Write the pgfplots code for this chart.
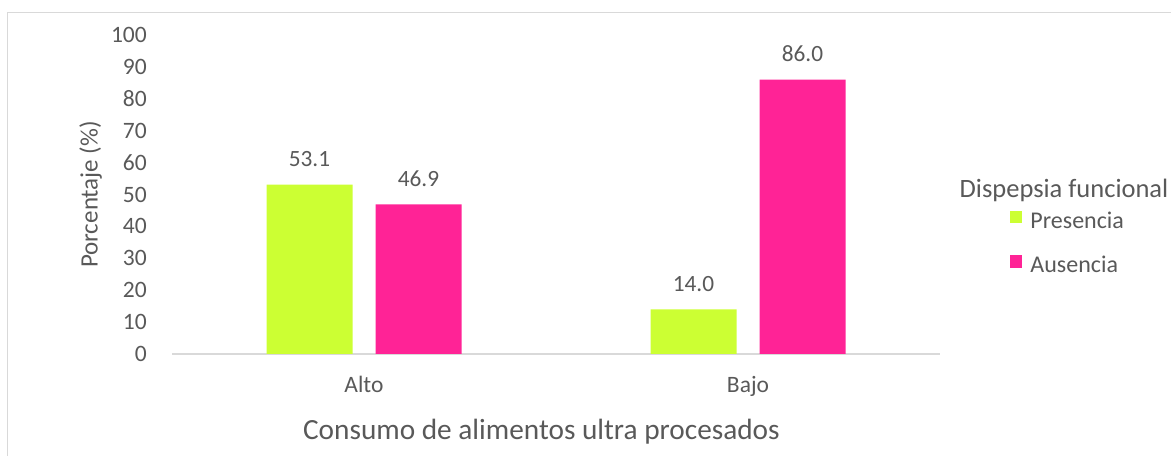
\documentclass[border=0pt]{standalone}
\usepackage{pgfplots}
\pgfplotsset{compat=1.18}
\usepackage{fontspec}
\setmainfont{Carlito}
\definecolor{txt}{HTML}{595959}
\definecolor{limeb}{HTML}{CCFF33}
\definecolor{pinkb}{HTML}{FF2396}
\definecolor{framec}{HTML}{D9D9D9}
\begin{document}
\begin{tikzpicture}[x=1bp,y=1bp]
\begin{axis}[
  at={(172bp,102bp)}, anchor=south west,
  scale only axis, width=768bp, height=319bp,
  xmin=-0.5, xmax=1.5, ymin=0, ymax=100,
  clip=false,
  ybar=23bp, bar width=86bp,
  xtick={0,1}, xticklabels={Alto,Bajo},
  ytick={0,10,...,100},
  major tick length=0pt,
  /pgf/number format/assume math mode=true,
  axis x line=bottom, axis y line=left,
  x axis line style={-, draw=framec, line width=1.2bp},
  y axis line style={draw=none},
  tick label style={text=txt, font=\fontsize{23.5bp}{28bp}\selectfont, inner sep=0pt},
  yticklabel style={anchor=east, xshift=-25bp},
  xticklabel style={anchor=base, yshift=-39bp},
  xlabel={Consumo de alimentos ultra procesados},
  xlabel style={at={(axis description cs:0.481,-0.2665)}, anchor=base, text=txt, font=\fontsize{29.3bp}{35bp}\selectfont, inner sep=0pt},
  ylabel={Porcentaje (\%)},
  ylabel style={at={(axis description cs:-0.106,0.5)}, anchor=center, text=txt, font=\fontsize{25bp}{30bp}\selectfont, inner sep=0pt},
  nodes near coords,
  nodes near coords style={/pgf/number format/.cd, fixed, fixed zerofill, precision=1, /tikz/.cd},
  every node near coord/.append style={anchor=base, inner sep=0pt, yshift=18bp, text=txt, font=\fontsize{23.3bp}{28bp}\selectfont},
  legend style={at={(axis description cs:1.0911,0.4483)}, anchor=north west, draw=none, fill=none, inner sep=0pt, outer sep=0pt,
    column sep=8bp, row sep=21bp,
    nodes={inner sep=0pt, text height=16bp, text depth=6bp, text=txt, font=\fontsize{24bp}{29bp}\selectfont}},
  legend cell align=left,
  legend image code/.code={\fill[#1] (0bp,0bp) rectangle (12.5bp,12.5bp);},
]
\addplot[fill=limeb, draw=none] coordinates {(0,53.1) (1,14.0)};
\addlegendentry{Presencia}
\addplot[fill=pinkb, draw=none] coordinates {(0,46.9) (1,86.0)};
\addlegendentry{Ausencia}
\end{axis}
\node[anchor=base, text=txt, font=\fontsize{26.5bp}{32bp}\selectfont, inner sep=0pt] at (1064,258) {Dispepsia funcional};
\draw[framec, line width=1bp] (7,0) -- (7,443) -- (1171,443);
\pgfresetboundingbox
\path[use as bounding box] (0,0) rectangle (1171,456);
\end{tikzpicture}
\end{document}
